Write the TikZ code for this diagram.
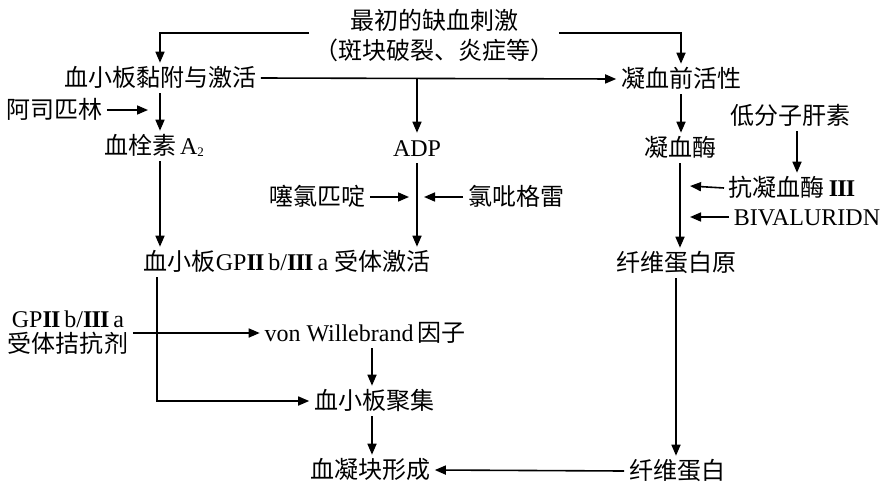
\documentclass[tikz,border=0pt]{standalone}
\usepackage{fontspec}
\setmainfont{Liberation Serif}
\newfontfamily\cjk[Scale=1.0]{Noto Sans CJK SC}
\usetikzlibrary{arrows.meta,calc}
\newcommand\zh[1]{{\cjk #1}}
\newcommand\rmII{\textbf{I\kern-0.8ptI}}
\newcommand\rmIII{\textbf{I\kern-0.8ptI\kern-0.8ptI}}
\newcommand\subtwo{\raisebox{-2pt}{\fontsize{13}{13}\selectfont 2}}
\begin{document}
\begin{tikzpicture}[x=1pt,y=-1pt,
  line width=1.6pt,
  arr/.style={-{Triangle[length=11pt,width=9pt]}},
  lab/.style={inner xsep=4pt,inner ysep=4pt,font=\fontsize{24}{30}\selectfont,text height=19pt,text depth=2pt},
  two/.style={inner xsep=4pt,inner ysep=4pt,align=center,font=\fontsize{24}{#1}\selectfont}]
\useasboundingbox (0,0) rectangle (888,485);
% nodes
\node[two=30] (init) at (434,36) {\zh{最初的缺血刺激}\\\zh{（斑块破裂、炎症等）}};
\node[lab] (adh) at (160,78) {\zh{血小板黏附与激活}};
\node[lab] (pro) at (681,79) {\zh{凝血前活性}};
\node[lab] (aspirin) at (54,110) {\zh{阿司匹林}};
\node[lab] (txa) at (154,146) {\zh{血栓素}\,A\subtwo};
\node[lab] (ADP) at (417,148) {ADP};
\node[lab] (ticlo) at (317,197) {\zh{噻氯匹啶}};
\node[lab] (clopi) at (516,197) {\zh{氯吡格雷}};
\node[lab] (gp) at (287,262) {\zh{血小板}GP\rmII\,b/\rmIII\,a \zh{受体激活}};
\node[lab] (thr) at (680,148) {\zh{凝血酶}};
\node[lab] (lmwh) at (790,116) {\zh{低分子肝素}};
\node[lab] (abt) at (792,188) {\zh{抗凝血酶}\,\rmIII};
\node[lab] (biv) at (807,217) {BIVALURIDN};
\node[lab] (fgn) at (676,263) {\zh{纤维蛋白原}};
\node[two=25] (gpi) at (68,333) {GP\rmII\,b/\rmIII\,a\\\zh{受体拮抗剂}};
\node[lab] (vwf) at (365,333) {von Willebrand\,\zh{因子}};
\node[lab] (agg) at (374,401) {\zh{血小板聚集}};
\node[lab] (clot) at (370,470) {\zh{血凝块形成}};
\node[lab] (fib) at (677,471) {\zh{纤维蛋白}};
% helper coordinates
\coordinate (aspT) at (148,110);
\coordinate (ticT) at (409,197);
\coordinate (cloT) at (424,197);
\coordinate (lmX) at (797,0);
\coordinate (abtT) at (690,186);
\coordinate (bivT) at (690,217);
\coordinate (gpX) at (157,0);
\coordinate (vX) at (372,0);
% connectors
\draw[arr] ([yshift=3pt]init.west) -| (adh.north);
\draw[arr] ([yshift=3pt]init.east) -| (pro.north);
\draw[arr] (adh.east) -- (pro.west);
\draw[arr] (adh.east -| ADP.north) -- (ADP.north);
\draw[arr] (adh.south) -- (adh.south |- txa.north);
\draw[arr] (aspirin.east) -- (aspT);
\draw[arr] (adh.south |- txa.south) -- (adh.south |- gp.north);
\draw[arr] (ADP.south) -- (ADP.south |- gp.north);
\draw[arr] (ticlo.east) -- (ticT);
\draw[arr] (clopi.west) -- (cloT);
\draw[arr] (pro.south) -- (pro.south |- thr.north);
\draw[arr] (thr.south) -- (thr.south |- fgn.north);
\draw[arr] (lmwh.south -| lmX) -- (abt.north -| lmX);
\draw[arr] (abt.west) -- (abtT);
\draw[arr] (biv.west) -- (bivT);
\draw[arr] (fgn.south) -- (fgn.south |- fib.north);
\draw[arr] (fib.west) -- (clot.east);
\draw[arr] (gp.south -| gpX) |- (agg.west);
\draw[arr] (gpi.east) -- (vwf.west);
\draw[arr] (vwf.south -| vX) -- (agg.north -| vX);
\draw[arr] (agg.south -| vX) -- (clot.north -| vX);
\end{tikzpicture}
\end{document}
